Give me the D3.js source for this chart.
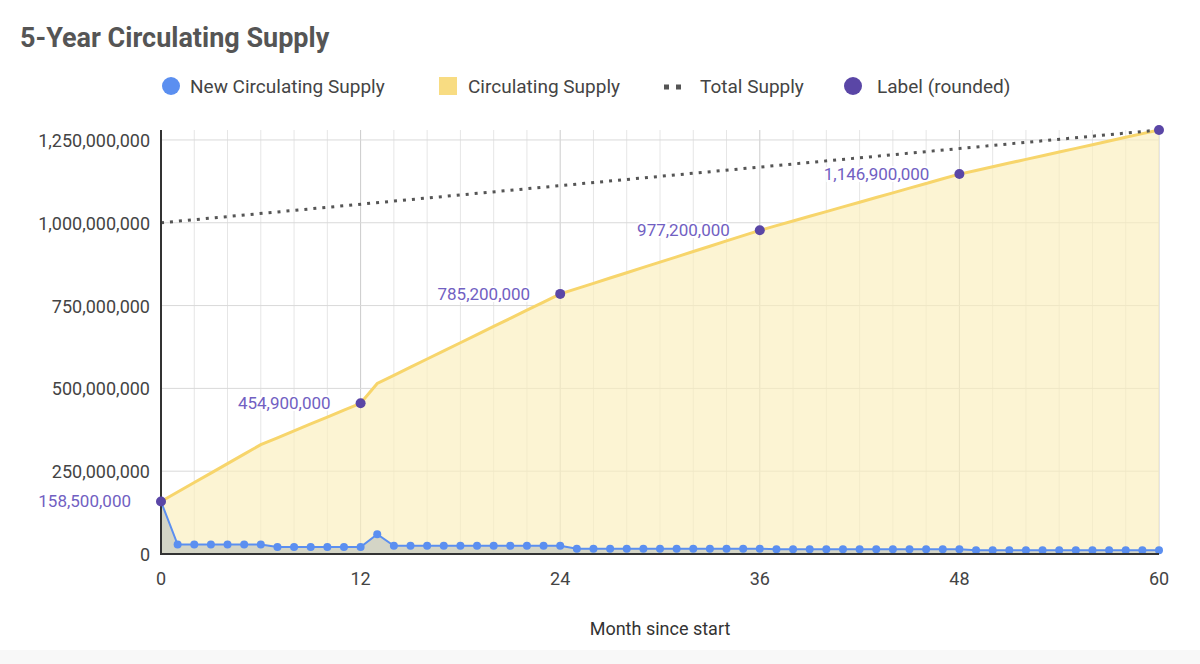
<!DOCTYPE html><html><head><meta charset="utf-8">
<script src="https://cdn.jsdelivr.net/npm/d3@7"></script>
<style>body{margin:0;background:#fff;font-family:Roboto,sans-serif}</style></head><body>
<svg id="c" width="1200" height="664"></svg>
<script>
const months = d3.range(0, 61);
// new circulating supply per month, millions
const newSupply = [158.5,
 28.6,28.6,28.6,28.6,28.6,28.6,
 20.8,20.8,20.8,20.8,20.8,20.8,
 60,
 24.57,24.57,24.57,24.57,24.57,24.57,24.57,24.57,24.57,24.57,24.57,
 16,16,16,16,16,16,16,16,16,16,16,16,
 14.14,14.14,14.14,14.14,14.14,14.14,14.14,14.14,14.14,14.14,14.14,14.14,
 11.1,11.1,11.1,11.1,11.1,11.1,11.1,11.1,11.1,11.1,11.1,11.1];
const circulating = Array.from(d3.cumsum(newSupply));
const totalMonths = [0, 60];
const totalSupply = [1000, 1280];
const labelMonths = [0, 12, 24, 36, 48, 60];
const labelValues = [158.5, 454.9, 785.2, 977.2, 1146.9, 1280];
const labelTexts = ["158,500,000","454,900,000","785,200,000","977,200,000","1,146,900,000",""];
const yTicks = [0, 250, 500, 750, 1000, 1250];
const xTicks = [0, 12, 24, 36, 48, 60];

const svg = d3.select("#c");
svg.append("rect").attr("x",0).attr("y",650).attr("width",1200).attr("height",14).attr("fill","#f8f8f8");
const x = d3.scaleLinear().domain([0,60]).range([161,1159]);
const y = d3.scaleLinear().domain([0,1280]).range([554,130]);

svg.append("text").attr("x",20).attr("y",47).text("5-Year Circulating Supply")
 .attr("font-size",27).attr("font-weight","bold").attr("fill","#555");

// grid
svg.append("g").selectAll("line").data(d3.range(2,61,2)).join("line")
 .attr("x1",d=>x(d)).attr("x2",d=>x(d)).attr("y1",130).attr("y2",554)
 .attr("stroke",d=>d%12===0?"#cccccc":"#e6e6e6");
svg.append("g").selectAll("line").data(yTicks.slice(1)).join("line")
 .attr("x1",161).attr("x2",1159).attr("y1",d=>y(d)).attr("y2",d=>y(d)).attr("stroke","#d9d9d9");

// areas
svg.append("path").datum(months).attr("fill","#fbeebb").attr("fill-opacity",0.65)
 .attr("d",d3.area().x(d=>x(d)).y0(y(0)).y1(d=>y(circulating[d])));
svg.append("path").datum(months).attr("fill","#c9cdc3").attr("fill-opacity",0.8)
 .attr("d",d3.area().x(d=>x(d)).y0(y(0)).y1(d=>y(newSupply[d])));

svg.append("path").datum(months).attr("fill","none").attr("stroke","#f7d56b").attr("stroke-width",3)
 .attr("d",d3.line().x(d=>x(d)).y(d=>y(circulating[d])));
svg.append("path").datum([0,1]).attr("fill","none").attr("stroke","#555").attr("stroke-width",3)
 .attr("stroke-dasharray","3,6")
 .attr("d",d3.line().x(i=>x(totalMonths[i])).y(i=>y(totalSupply[i])));
svg.append("path").datum(months).attr("fill","none").attr("stroke","#5b8ff0").attr("stroke-width",2)
 .attr("d",d3.line().x(d=>x(d)).y(d=>y(newSupply[d])));
svg.append("g").selectAll("circle").data(months.slice(1)).join("circle")
 .attr("cx",d=>x(d)).attr("cy",d=>y(newSupply[d])).attr("r",4).attr("fill","#5b8ff0");

// axes
const ax = svg.append("g").attr("font-size",18).attr("fill","#444");
ax.selectAll("text.y").data(yTicks).join("text").attr("x",150).attr("y",d=>y(d)+7)
 .attr("text-anchor","end").attr("fill","#444").text(d=>d3.format(",")(d*1e6));
ax.selectAll("text.x").data(xTicks).join("text").attr("x",d=>x(d)).attr("y",585)
 .attr("text-anchor","middle").attr("fill","#444").text(d=>d);
svg.append("line").attr("x1",161).attr("x2",161).attr("y1",130).attr("y2",555).attr("stroke","#333").attr("stroke-width",2);
svg.append("line").attr("x1",160).attr("x2",1159).attr("y1",554).attr("y2",554).attr("stroke","#333").attr("stroke-width",2);
svg.append("text").attr("x",660).attr("y",635).attr("text-anchor","middle").attr("font-size",18).attr("fill","#333").text("Month since start");

// labels
const lg = svg.append("g");
labelMonths.forEach((m,i)=>{
  const lx = x(m), ly = y(labelValues[i]);
  if(labelTexts[i]){
    lg.append("text").attr("x",lx-30).attr("y",ly+6).attr("text-anchor","end").attr("font-size",17)
     .attr("fill","#7160c2").attr("stroke","#fff").attr("stroke-width",4).attr("paint-order","stroke").text(labelTexts[i]);
  }
  lg.append("circle").attr("cx",lx).attr("cy",ly).attr("r",5).attr("fill","#5a46a6");
});

// legend
const L = svg.append("g").attr("font-size",19).attr("fill","#444");
L.append("circle").attr("cx",171).attr("cy",86).attr("r",9).attr("fill","#5b8ff0");
L.append("text").attr("x",190).attr("y",93).text("New Circulating Supply");
L.append("rect").attr("x",439).attr("y",77).attr("width",18).attr("height",18).attr("fill","#f8dc82");
L.append("text").attr("x",468).attr("y",93).text("Circulating Supply");
L.append("line").attr("x1",664).attr("x2",688).attr("y1",87).attr("y2",87).attr("stroke","#555").attr("stroke-width",5).attr("stroke-dasharray","5,7");
L.append("text").attr("x",700).attr("y",93).text("Total Supply");
L.append("circle").attr("cx",853).attr("cy",86).attr("r",9).attr("fill","#5a46a6");
L.append("text").attr("x",877).attr("y",93).text("Label (rounded)");
</script></body></html>
